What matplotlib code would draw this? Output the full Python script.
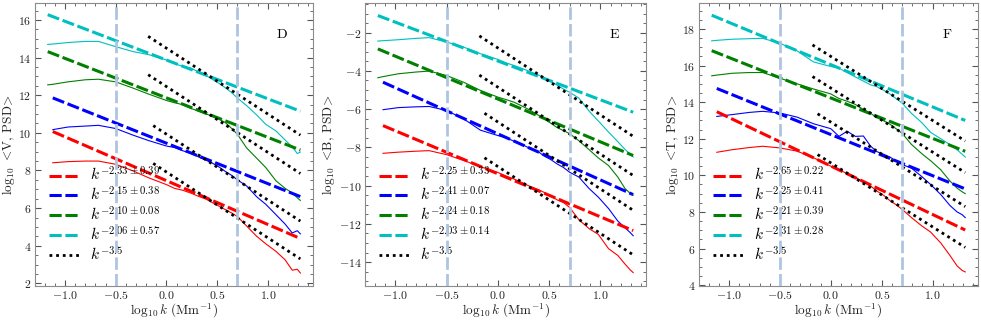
import numpy as np
import matplotlib
matplotlib.use('Agg')
import matplotlib.pyplot as plt
from matplotlib.ticker import MultipleLocator, AutoMinorLocator

plt.rcParams['font.family'] = 'serif'
plt.rcParams['font.serif'] = ['cmr10']
plt.rcParams['mathtext.fontset'] = 'cm'
plt.rcParams['axes.formatter.use_mathtext'] = True

nan = np.nan

# log10 k sample points (Mm^-1)
log_k = [-1.17, -1.12, -0.97, -0.80, -0.67, -0.50, -0.33, -0.17, 0.0, 0.08, 0.16, 0.24, 0.32,
         0.39, 0.45, 0.52, 0.58, 0.64, 0.70, 0.79, 0.89, 0.98, 1.08, 1.17, 1.24, 1.29, 1.32]

# panel D : velocity
d_red = [nan, 8.41, 8.47, 8.50, 8.50, 8.33, 7.98, 7.60, 7.25, 7.05, 6.95, 6.80, 6.62,
         6.48, 6.30, 6.10, 5.92, 5.75, 5.55, 5.05, 4.50, 4.10, 3.70, 3.25, 2.70, 2.75, 2.55]
d_blue = [nan, 10.17, 10.31, 10.36, 10.40, 10.23, 9.88, 9.58, 9.30, 9.22, 9.05, 8.92, 8.71,
          8.55, 8.40, 8.18, 7.95, 7.75, 7.50, 7.18, 6.60, 6.20, 5.65, 5.15, 4.68, 4.80, 4.63]
d_green = [12.55, 12.58, 12.71, 12.82, 12.85, 12.71, 12.38, 12.05, 11.72, 11.60, 11.50, 11.30, 11.15,
           11.00, 10.90, 10.72, 10.55, 10.25, 9.92, 9.20, 8.65, 8.15, 7.45, 7.05, 6.80, 6.55, 6.41]
d_cyan = [14.70, 14.72, 14.80, 14.86, 14.86, 14.58, 14.32, 14.15, 13.87, 13.68, 13.53, 13.45, 13.22,
          13.05, 12.85, 12.62, 12.40, 12.15, 11.85, 11.45, 10.95, 10.45, 10.10, 9.62, 9.25, 8.90, 8.98]
d_slope = [-2.33, -2.15, -2.10, -2.06]
d_err = [0.39, 0.38, 0.08, 0.57]
d_fit0 = [7.46, 9.45, 11.86, 13.87]
d_ref0 = [7.92, 9.93, 12.46, 14.50]
d_ylim = (1.86, 16.9)

# panel E : magnetic field
e_red = [nan, -8.31, -8.25, -8.20, -8.17, -8.38, -8.69, -9.01, -9.31, -9.50, -9.66, -9.85, -10.06,
         -10.20, -10.35, -10.55, -10.75, -10.88, -11.14, -11.78, -12.25, -12.55, -13.30, -13.65, -14.10, -14.40, -14.55]
e_blue = [nan, -6.03, -5.92, -5.88, -5.86, -6.07, -6.52, -7.10, -7.38, -7.50, -7.68, -7.85, -8.08,
          -8.20, -8.45, -8.65, -8.87, -9.05, -9.30, -9.55, -10.15, -10.60, -11.20, -11.85, -12.20, -12.45, -12.62]
e_green = [-4.36, -4.30, -4.15, -4.06, -4.01, -4.24, -4.60, -5.02, -5.37, -5.50, -5.64, -5.85, -6.07,
           -6.30, -6.50, -6.75, -6.97, -7.12, -7.28, -7.65, -8.12, -8.55, -8.95, -9.55, -10.15, -10.40, -10.50]
e_cyan = [-2.44, -2.42, -2.37, -2.30, -2.26, -2.49, -2.76, -3.10, -3.40, -3.58, -3.72, -3.88, -4.05,
          -4.20, -4.35, -4.55, -4.75, -4.95, -5.12, -5.42, -6.10, -6.62, -7.20, -7.70, -8.10, -8.35, -8.50]
e_slope = [-2.25, -2.41, -2.24, -2.03]
e_err = [0.33, 0.07, 0.18, 0.14]
e_fit0 = [-9.38, -7.29, -5.47, -3.48]
e_ref0 = [-9.00, -6.67, -4.85, -2.80]
e_ylim = (-15.25, -0.45)

# panel F : temperature
f_red = [nan, 11.26, 11.40, 11.52, 11.59, 11.50, 11.32, 10.96, 10.50, 10.30, 10.10, 9.88, 9.65,
         9.42, 9.15, 8.90, 8.62, 8.40, 8.14, 7.70, 7.25, 6.90, 6.30, 5.62, 5.05, 4.80, 4.72]
f_blue = [nan, 13.22, 13.32, 13.44, 13.50, 13.41, 13.18, 12.82, 12.55, 12.13, 12.41, 12.13, 12.15,
          11.60, 11.30, 11.15, 11.00, 10.80, 10.59, 10.40, 9.95, 9.50, 8.95, 8.35, 8.00, 7.85, 7.69]
f_green = [15.44, 15.48, 15.58, 15.62, 15.62, 15.31, 15.00, 14.72, 14.45, 14.20, 14.05, 13.88, 13.60,
           13.40, 13.15, 12.98, 12.80, 12.55, 12.30, 11.70, 11.20, 10.80, 10.30, 9.69, 9.30, 9.10, 9.00]
f_cyan = [17.35, 17.38, 17.44, 17.47, 17.49, 17.22, 16.80, 16.20, 15.95, 15.86, 15.62, 15.38, 15.15,
          14.95, 14.85, 14.65, 14.45, 14.20, 13.95, 13.40, 12.90, 12.35, 12.00, 11.68, 11.40, 11.15, 11.00]
f_slope = [-2.65, -2.25, -2.21, -2.31]
f_err = [0.22, 0.41, 0.39, 0.28]
f_fit0 = [10.51, 12.23, 14.23, 16.05]
f_ref0 = [10.68, 12.91, 14.77, 16.50]
f_ylim = (3.95, 19.42)

colors = ['red', 'blue', 'green', 'c']
fit_start = [-1.12, -1.12, -1.17, -1.17]
ref_start = [-0.13, -0.13, -0.18, -0.18]
k_end = 1.32
ref_slope = -3.5
k_marks = [-0.5, 0.7]


def draw_panel(ax, curves, slopes, errs, fit0, ref0, ylim, name, letter):
    for c, y in zip(colors, curves):
        ax.plot(log_k, y, color=c, lw=0.8)
    for i, c in enumerate(colors):
        xs = np.array([fit_start[i], k_end])
        lab = r'$k^{%.2f\pm%.2f}$' % (slopes[i], errs[i])
        ax.plot(xs, fit0[i] + slopes[i] * xs, color=c, lw=2.2, dashes=(4, 1.2), label=lab)
    for i in range(4):
        xs = np.array([ref_start[i], k_end])
        lab = r'$k^{-3.5}$' if i == 0 else None
        ax.plot(xs, ref0[i] + ref_slope * xs, color='black', lw=2.0, dashes=(1, 1.4), label=lab)
    for xv in k_marks:
        ax.axvline(xv, color='#aec4e0', lw=2.0, dashes=(4.5, 1.5), zorder=6)

    h, l = ax.get_legend_handles_labels()
    ax.legend(h, l, loc='lower left', bbox_to_anchor=(0.0, 0.03), frameon=False, fontsize=11,
              handlelength=2.0, handletextpad=0.7, labelspacing=0.12)

    ax.set_xlim(-1.295, 1.445)
    ax.set_ylim(*ylim)
    ax.xaxis.set_major_locator(MultipleLocator(0.5))
    ax.xaxis.set_minor_locator(AutoMinorLocator(5))
    ax.yaxis.set_major_locator(MultipleLocator(2))
    ax.yaxis.set_minor_locator(AutoMinorLocator(4))
    ax.tick_params(which='both', direction='in', top=True, right=True, colors='#555555',
                   labelcolor='#222222', labelsize=8.5, pad=2.5)
    ax.tick_params(which='major', length=4)
    ax.tick_params(which='minor', length=2)
    for s in ax.spines.values():
        s.set_color('#8c8c8c')
    ax.set_xlabel(r'$\log_{10} k$ (Mm$^{-1}$)', fontsize=9.5, color='#222222', labelpad=0)
    ax.set_ylabel(r'$\log_{10}$ $\!<\!$%s, PSD$\!>\!$' % name, fontsize=9.5, color='#222222',
                  labelpad=1)
    ax.text(0.888, 0.887, letter, transform=ax.transAxes, ha='center', va='center', fontsize=10)


fig = plt.figure(figsize=(9.81, 3.21), dpi=100)
ax_d = fig.add_axes([0.0357, 0.109, 0.2834, 0.8816])
ax_e = fig.add_axes([0.3721, 0.109, 0.2864, 0.8816])
ax_f = fig.add_axes([0.7125, 0.109, 0.2844, 0.8816])

draw_panel(ax_d, [d_red, d_blue, d_green, d_cyan], d_slope, d_err, d_fit0, d_ref0, d_ylim, 'V', 'D')
draw_panel(ax_e, [e_red, e_blue, e_green, e_cyan], e_slope, e_err, e_fit0, e_ref0, e_ylim, 'B', 'E')
draw_panel(ax_f, [f_red, f_blue, f_green, f_cyan], f_slope, f_err, f_fit0, f_ref0, f_ylim, 'T', 'F')

fig.savefig('out.png', dpi=100)
